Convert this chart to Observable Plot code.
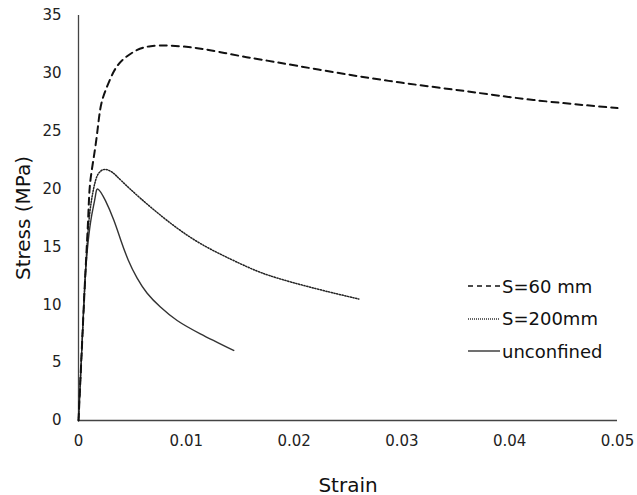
<!DOCTYPE html>
<html>
<head>
<meta charset="utf-8">
<script src="https://cdn.jsdelivr.net/npm/d3@7"></script>
<script src="https://cdn.jsdelivr.net/npm/@observablehq/plot@0.6"></script>
<style>
  html, body { margin: 0; padding: 0; background: #fff; }
  #wrap { position: relative; width: 637px; height: 495px; font-family: "DejaVu Sans", sans-serif; }
  #legend { position: absolute; left: 468px; top: 270px; font-size: 18px; color: #111; }
  #legend .row { display: flex; align-items: center; height: 32.5px; }
  #legend svg { margin-right: 2px; }
</style>
</head>
<body>
<div id="wrap"></div>
<script>
const seriesNames = ["S=60 mm", "S=200mm", "unconfined"];

const strain60 = [0, 0.0003, 0.0006, 0.0009, 0.0011, 0.0016, 0.002, 0.0025, 0.0033, 0.0042, 0.0054, 0.0067, 0.0085, 0.0104, 0.0122, 0.015, 0.0175, 0.0237, 0.0299, 0.036, 0.0422, 0.05];
const stress60 = [0, 6, 12, 17.5, 20.7, 23.9, 26.8, 28.5, 30.2, 31.25, 32.0, 32.35, 32.4, 32.25, 32.0, 31.5, 31.1, 30.1, 29.2, 28.45, 27.7, 27.0];

const strain200 = [0, 0.0003, 0.0006, 0.0009, 0.0012, 0.0016, 0.002, 0.0025, 0.0032, 0.004, 0.00575, 0.0082, 0.0113, 0.0149, 0.0178, 0.022, 0.026];
const stress200 = [0, 6, 12, 16.5, 19, 20.8, 21.5, 21.7, 21.4, 20.7, 19.2, 17.3, 15.3, 13.6, 12.5, 11.4, 10.5];

const strainUnc = [0, 0.0003, 0.0006, 0.0009, 0.0012, 0.00155, 0.0018, 0.0025, 0.00328, 0.0039, 0.0046, 0.00544, 0.00637, 0.0076, 0.00915, 0.0113, 0.0144];
const stressUnc = [0, 6, 12, 15.5, 17.6, 19.3, 20.0, 19.0, 17.3, 15.65, 13.9, 12.3, 11.0, 9.8, 8.64, 7.49, 6.05];

const xTicks = [0, 0.01, 0.02, 0.03, 0.04, 0.05];
const xTickLabels = ["0", "0.01", "0.02", "0.03", "0.04", "0.05"];
const yTicks = [0, 5, 10, 15, 20, 25, 30, 35];

const toRows = (xs, ys) => xs.map((x, i) => ({x, y: ys[i]}));
const d60 = toRows(strain60, stress60);
const d200 = toRows(strain200, stress200);
const dUnc = toRows(strainUnc, stressUnc);

const font = '"DejaVu Sans", sans-serif';

const chart = Plot.plot({
  width: 637,
  height: 495,
  marginLeft: 78,
  marginRight: 20,
  marginTop: 15,
  marginBottom: 75,
  style: {fontFamily: font, fontSize: "15px", color: "#222", background: "#fff"},
  x: {domain: [0, 0.05], ticks: xTicks, tickFormat: (d, i) => xTickLabels[i], tickSize: 0, tickPadding: 15, label: "Strain", labelAnchor: "center", labelArrow: "none", labelOffset: 71},
  y: {domain: [0, 35], ticks: yTicks, tickSize: 0, tickPadding: 17, label: "Stress (MPa)", labelAnchor: "center", labelArrow: "none", labelOffset: 63},
  marks: [
    Plot.ruleX([0], {stroke: "#444", strokeWidth: 1.3}),
    Plot.ruleY([0], {stroke: "#444", strokeWidth: 1.3}),
    Plot.line(dUnc, {x: "x", y: "y", stroke: "#333", strokeWidth: 1.4, curve: "natural"}),
    Plot.line(d200, {x: "x", y: "y", stroke: "#222", strokeWidth: 1.5, strokeDasharray: "1.2,1.6", curve: "natural"}),
    Plot.line(d60, {x: "x", y: "y", stroke: "#111", strokeWidth: 2, strokeDasharray: "7,5", curve: "natural"})
  ]
});

d3.select(chart).selectAll("g[aria-label='x-axis label'] text, g[aria-label='y-axis label'] text").style("font-size", "20px").attr("fill", "#111");

const wrap = document.getElementById("wrap");
wrap.appendChild(chart);

const legend = document.createElement("div");
legend.id = "legend";
const styles = [
  {stroke: "#111", w: 1.6, dash: "5,4"},
  {stroke: "#333", w: 1.3, dash: "1,1"},
  {stroke: "#333", w: 1.4, dash: null}
];
seriesNames.forEach((name, i) => {
  const row = document.createElement("div");
  row.className = "row";
  const s = styles[i];
  row.innerHTML = `<svg width="32" height="10"><line x1="0" y1="5" x2="32" y2="5" stroke="${s.stroke}" stroke-width="${s.w}" ${s.dash ? `stroke-dasharray="${s.dash}"` : ""}/></svg><span>${name}</span>`;
  legend.appendChild(row);
});
wrap.appendChild(legend);
</script>
</body>
</html>
